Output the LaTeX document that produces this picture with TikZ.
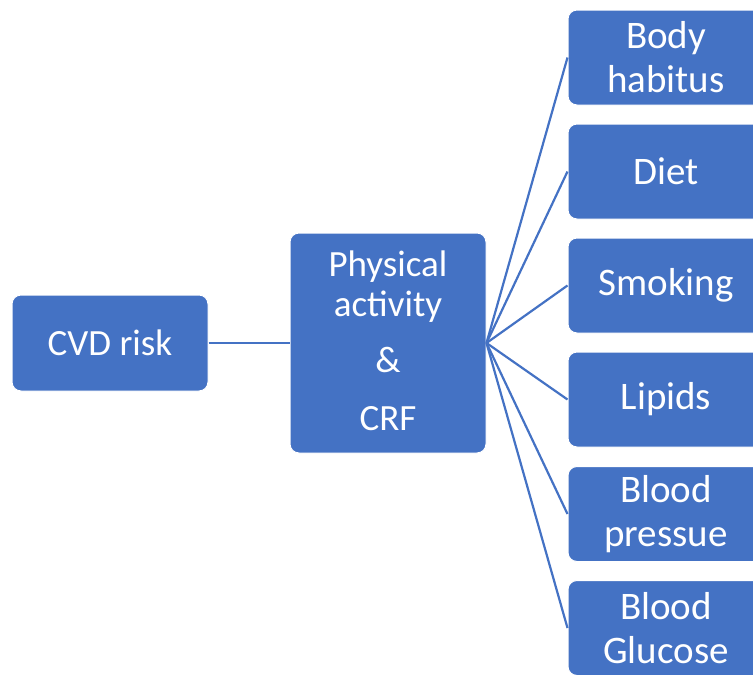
\documentclass[tikz,border=0pt]{standalone}
\usepackage{fontspec}
\setmainfont{Carlito}
\definecolor{officeblue}{HTML}{4472C4}
\tikzset{
  box/.style={draw=white, line width=1pt, fill=officeblue, rounded corners=9pt, text=white,
    minimum width=196pt, align=center, inner sep=0pt,
    font=\fontsize{37}{44}\selectfont},
  rbox/.style={box, minimum height=95pt, font=\fontsize{39}{44}\selectfont},
  link/.style={draw=officeblue, line width=2.2pt}
}
\begin{document}
\begin{tikzpicture}[x=1pt,y=-1pt]
\useasboundingbox (0,0) rectangle (753,675);
\clip (0,0) rectangle (753,675);
\node[box, minimum height=96pt] (cvd) at (110,343) {CVD risk};
\node[box, minimum height=220pt] (pa) at (388,343) {};
\node[text=white, align=center, font=\fontsize{37}{40}\selectfont, inner sep=0pt] (patext) at (388,341)
  {Physical\\activity\\[16pt]\&\\[18pt]CRF};
\node[rbox] (r1) at (666,57.5) {Body\\habitus};
\node[rbox] (r2) at (666,171.5) {Diet};
\node[rbox] (r3) at (666,285.5) {Smoking};
\node[rbox] (r4) at (666,399.5) {Lipids};
\node[rbox] (r5) at (666,514) {Blood\\pressue};
\node[rbox] (r6) at (666,628) {Blood\\Glucose};
\draw[link] (cvd.east) -- (pa.west);
\foreach \r in {r1,r2,r3,r4,r5,r6}{
  \draw[link] (pa.east) -- (\r.west);
}
\end{tikzpicture}
\end{document}
